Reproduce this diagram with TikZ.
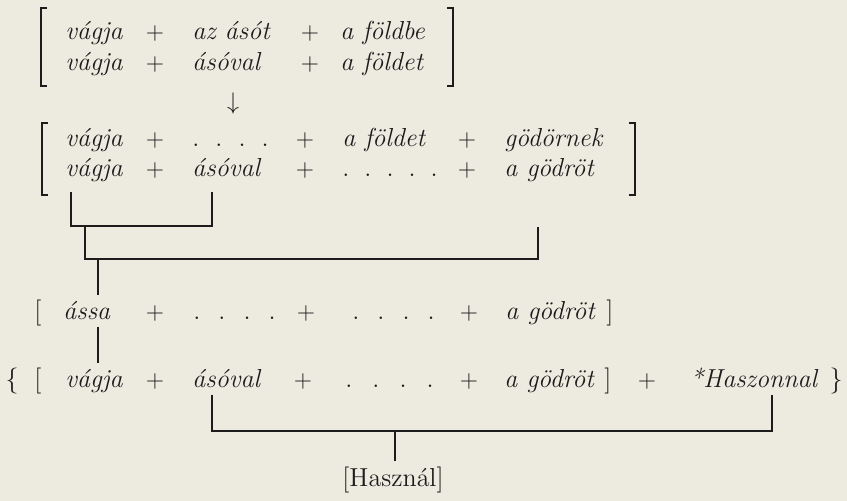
\documentclass[tikz,border=0pt]{standalone}
\usepackage{tikz}

\definecolor{paper}{RGB}{237,234,224}
\definecolor{ink}{RGB}{28,28,28}
\newcommand{\fourdots}[1][8pt]{.\hspace{#1}.\hspace{#1}.\hspace{#1}.}
\newcommand{\fivedots}[1][7.5pt]{.\hspace{#1}.\hspace{#1}.\hspace{#1}.\hspace{#1}.}

\begin{document}
\begin{tikzpicture}[
  x=0.5pt,
  y=-0.5pt,
  every node/.style={font=\fontsize{13}{15}\selectfont,text=ink,inner xsep=0pt,inner ysep=3pt},
  word/.style={anchor=base west,font=\fontsize{13}{15}\selectfont\itshape},
  sign/.style={anchor=base},
  delim/.style={draw=ink,line width=0.75pt},
  joinline/.style={draw=ink,line width=0.6pt},
]
\fill[paper] (0,0) rectangle (847,501);
\useasboundingbox (0,0) rectangle (847,501);

% first block
\node[word] (A1) at (65,40) {vágja};
\node[sign] (A2) at (155,40) {$+$};
\node[word] (A3) at (192,40) {az ásót};
\node[sign] (A4) at (310,40) {$+$};
\node[word] (A5) at (340,40) {a földbe};
\node[word] (B1) at (65,71) {vágja};
\node[sign] (B2) at (155,71) {$+$};
\node[word] (B3) at (192,71) {ásóval};
\node[sign] (B4) at (310,71) {$+$};
\node[word] (B5) at (340,71) {a földet};
\draw[delim] (47,8) -| (41,86) -- (47,86);
\draw[delim] (447,8) -| (453,86) -- (447,86);

\node (arr) at (233,104) {$\downarrow$};

% second block
\node[word] (C1) at (65,147) {vágja};
\node[sign] (C2) at (155,147) {$+$};
\node[word] (C3) at (192,147) {\upshape\fourdots};
\node[sign] (C4) at (305,147) {$+$};
\node[word] (C5) at (342,147) {a földet};
\node[sign] (C6) at (467,147) {$+$};
\node[word] (C7) at (504,147) {gödörnek};
\node[word] (D1) at (65,177) {vágja};
\node[sign] (D2) at (155,177) {$+$};
\node[word] (D3) at (192,177) {ásóval};
\node[sign] (D4) at (305,177) {$+$};
\node[word] (D5) at (342,177) {\upshape\fivedots};
\node[sign] (D6) at (467,177) {$+$};
\node[word] (D7) at (504,177) {a gödröt};
\draw[delim] (48,123) -| (42,195) -- (48,195);
\draw[delim] (629,123) -| (635,195) -- (629,195);

% third line
\node[sign] (E0) at (38,320) {[};
\node[word] (E1) at (63,320) {ássa};
\node[sign] (E2) at (155,320) {$+$};
\node[word] (E3) at (193,320) {\upshape\fourdots[9pt]};
\node[sign] (E4) at (306,320) {$+$};
\node[word] (E5) at (352,320) {\upshape\fourdots[9pt]};
\node[sign] (E6) at (469,320) {$+$};
\node[word] (E7) at (505,320) {a gödröt};
\node[sign] (E8) at (610,320) {]};

% last line
\node[sign] (F0) at (12,388) {\{};
\node[sign] (F1) at (38,388) {[};
\node[word] (F2) at (65,388) {vágja};
\node[sign] (F3) at (155,388) {$+$};
\node[word] (F4) at (192,388) {ásóval};
\node[sign] (F5) at (303,388) {$+$};
\node[word] (F6) at (345,388) {\upshape\fourdots[10pt]};
\node[sign] (F7) at (469,388) {$+$};
\node[word] (F8) at (504,388) {a gödröt};
\node[sign] (F9) at (608,388) {]};
\node[sign] (F10) at (647,388) {$+$};
\node[word] (F11) at (690,388) {*Haszonnal};
\node[sign] (F12) at (836,388) {\}};

\node[sign] (H) at (393,487) {[Használ]};

% joins
\coordinate (k1) at (71,192);
\coordinate (k2) at (212,192);
\coordinate (k3) at (85,226);
\coordinate (k4) at (538,227);
\coordinate (k5) at (98,259);
\coordinate (k6) at (212,431);
\coordinate (k7) at (772,431);
\coordinate (k8) at (395,431);
\draw[joinline] (k1) -- ++(0,34) -| (k2);
\draw[joinline] (k3) -- ++(0,33) -| (k4);
\draw[joinline] (k5) -- (k5 |- E1.north);
\draw[joinline] (k5 |- E1.south) -- (k5 |- F2.north);
\draw[joinline] (k6 |- F4.south) -- (k6) -- (k7) -- (k7 |- F11.south);
\draw[joinline] (k8) -- (k8 |- H.north);
\end{tikzpicture}
\end{document}
